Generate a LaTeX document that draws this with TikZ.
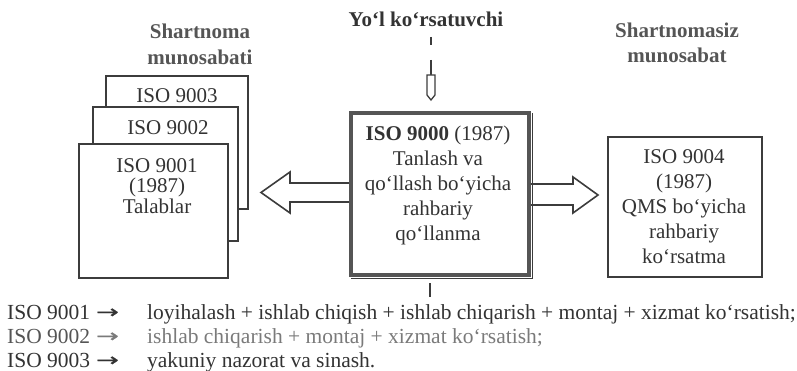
\documentclass[tikz,border=0pt]{standalone}
\usepackage{fontspec}
\setmainfont{Liberation Serif}
\newfontfamily\arrowfont[FakeStretch=1.5,FakeBold=1]{DejaVu Sans}
\usetikzlibrary{calc}
\definecolor{ink}{HTML}{333333}
\definecolor{inkm}{HTML}{555555}
\definecolor{inkl}{HTML}{7A7A7A}
\definecolor{frame}{HTML}{3C3C3C}
\begin{document}
\begin{tikzpicture}[x=1pt,y=-1pt,
  txt/.style={inner sep=0pt, text=ink, font=\fontsize{21}{25}\selectfont, align=center},
  head/.style={inner sep=0pt, anchor=base, text=inkm, font=\fontsize{21}{25}\selectfont\bfseries},
  card/.style={draw=frame, line width=1.8pt, fill=white, inner sep=0pt},
  mainbox/.style={draw=inkm, line width=3.5pt, fill=white, inner sep=0pt},
  hollow/.style={draw=frame, line width=1.6pt, fill=white, line join=miter},
  link/.style={draw=frame, line width=2.2pt},
  btxt/.style={inner sep=0pt, anchor=base west, text=ink, font=\fontsize{21.5}{24}\selectfont},
  barrow/.style={inner sep=0pt, anchor=base west, text=ink, font=\fontsize{18}{24}\arrowfont},
]
\path[use as bounding box] (0,0) rectangle (797,371);

% headings
\node[head] (h1a) at (200,39) {Shartnoma};
\node[head] (h1b) at (200,65) {munosabati};
\node[head] (h2a) at (677,38) {Shartnomasiz};
\node[head] (h2b) at (677,63) {munosabat};
\node[head, text=ink] (h0) at (426,27) {Yo‘l ko‘rsatuvchi};

% stacked cards
\node[card, minimum width=142, minimum height=133] (c3) at (177,142.5) {};
\node[txt] (t3) at (177,96) {ISO 9003};
\node[card, minimum width=145, minimum height=134] (c2) at (165.5,174) {};
\node[txt] (t2) at (168,128) {ISO 9002};
\node[card, minimum width=149, minimum height=134] (c1) at (153.5,211) {};
\node[txt, font=\fontsize{21}{20.5}\selectfont] (t1) at (157,186) {ISO 9001\\(1987)\\Talablar};

% coordinates for hollow arrows
\coordinate (ltip) at (261,192.5);
\coordinate (rtip) at (598,195);

% left hollow arrow (drawn under the main box)
\draw[hollow] (ltip) -- ($(ltip)+(29,-20.5)$) -- ($(ltip)+(29,-9.5)$) -- ($(ltip)+(95,-9.5)$)
  -- ($(ltip)+(95,9.5)$) -- ($(ltip)+(29,9.5)$) -- ($(ltip)+(29,20.5)$) -- cycle;

% right hollow arrow
\draw[hollow] (rtip) -- ($(rtip)+(-25,-18)$) -- ($(rtip)+(-25,-11)$) -- ($(rtip)+(-73,-11)$)
  -- ($(rtip)+(-73,10)$) -- ($(rtip)+(-25,10)$) -- ($(rtip)+(-25,18)$) -- cycle;

% main box
\node[mainbox, minimum width=178, minimum height=162] (c0) at (440,194) {};
\draw[frame, line width=1.2pt] ($(c0.north east)+(1.5,2)$) -- ($(c0.south east)+(1.5,1.5)$) -- ($(c0.south west)+(2,1.5)$);
\node[txt] (t0) at (438,185) {\textbf{ISO 9000} (1987)\\Tanlash va\\qo‘llash bo‘yicha\\rahbariy\\qo‘llanma};

% right box
\node[card, line width=2.2pt, minimum width=154, minimum height=140] (r) at (685,207) {};
\node[txt] (tr) at (684,207) {ISO 9004\\(1987)\\QMS bo‘yicha\\rahbariy\\ko‘rsatma};

% top guide connector with small hollow arrow
\coordinate (g1) at (431,37);
\coordinate (g2) at (431,45);
\coordinate (g3) at (431,60);
\coordinate (g4) at (431,75);
\draw[link] (g1) -- (g2);
\draw[link] (g3) -- (g4);
\draw[hollow, line width=1.3pt] ($(g4)+(-4,0)$) -- ($(g4)+(4,0)$) -- ($(g4)+(4,20)$) -- ($(g4)+(0,25)$)
  -- ($(g4)+(-4,20)$) -- cycle;

% short line below main box
\coordinate (b1) at (430,283);
\coordinate (b2) at (430,297);
\draw[link, line width=2.6pt] (b1) -- (b2);

% bottom legend
\node[btxt] (l1a) at (7,319) {ISO 9001};
\node[barrow] (l1b) at (96,318) {→};
\node[btxt] (l1c) at (147,319) {loyihalash + ishlab chiqish + ishlab chiqarish + montaj + xizmat ko‘rsatish;};
\node[btxt, text=inkm] (l2a) at (7,343) {ISO 9002};
\node[barrow, text=inkl] (l2b) at (96,342) {→};
\node[btxt, text=inkl] (l2c) at (147,343) {ishlab chiqarish + montaj + xizmat ko‘rsatish;};
\node[btxt] (l3a) at (7,367) {ISO 9003};
\node[barrow] (l3b) at (96,366) {→};
\node[btxt] (l3c) at (147,367) {yakuniy nazorat va sinash.};
\end{tikzpicture}
\end{document}
